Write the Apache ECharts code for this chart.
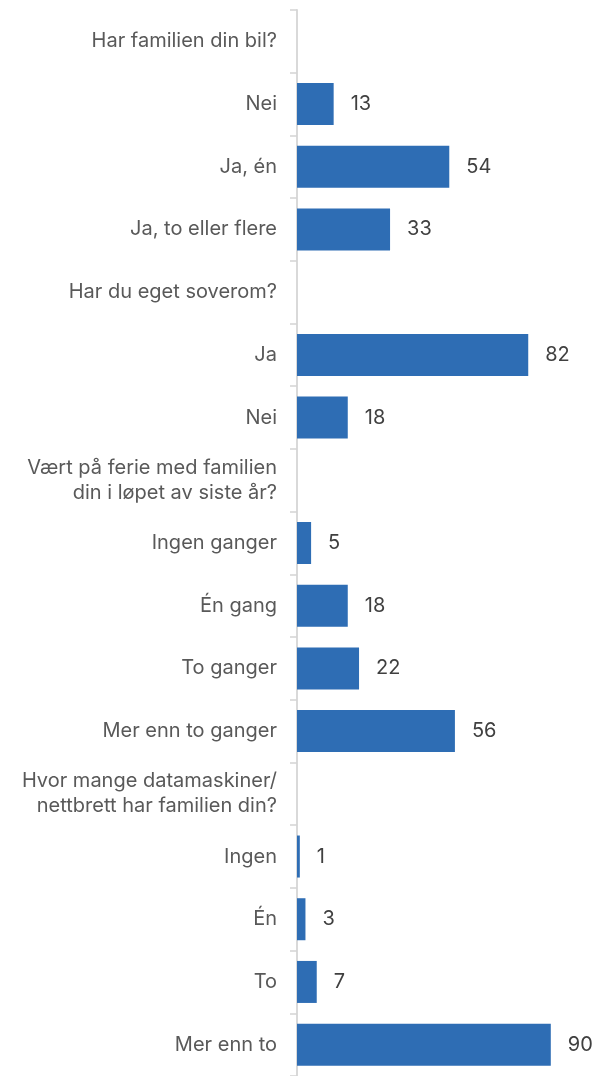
<!DOCTYPE html>
<html>
<head>
<meta charset="utf-8">
<script src="https://cdn.jsdelivr.net/npm/echarts@6/dist/echarts.min.js"></script>
<style>
  html, body { margin: 0; padding: 0; background: #fff; }
  #chart { width: 604px; height: 1076px; }
</style>
</head>
<body>
<div id="chart"></div>
<script>
// kategorier, ovenfra og ned (overskrifter har ingen verdi)
const categories = [
  'Har familien din bil?',
  'Nei',
  'Ja, én',
  'Ja, to eller flere',
  'Har du eget soverom?',
  'Ja',
  'Nei',
  'Vært på ferie med familien\ndin i løpet av siste år?',
  'Ingen ganger',
  'Én gang',
  'To ganger',
  'Mer enn to ganger',
  'Hvor mange datamaskiner/\nnettbrett har familien din?',
  'Ingen',
  'Én',
  'To',
  'Mer enn to'
];
const values = [null, 13, 54, 33, null, 82, 18, null, 5, 18, 22, 56, null, 1, 3, 7, 90];

const myChart = echarts.init(document.getElementById('chart'));

const option = {
  animation: false,
  grid: {
    left: 297,
    right: 25,
    top: 10,
    bottom: 0,
    containLabel: false
  },
  xAxis: {
    type: 'value',
    min: 0,
    max: 100,
    show: false
  },
  yAxis: {
    type: 'category',
    inverse: true,
    data: categories,
    axisLine: {
      show: true,
      lineStyle: { color: '#d9d9d9', width: 2 }
    },
    axisTick: {
      show: true,
      inside: false,
      length: 7,
      lineStyle: { color: '#d4d4d4', width: 1.5 }
    },
    axisLabel: {
      color: '#595959',
      fontFamily: 'Inter',
      fontSize: 20,
      margin: 20,
      lineHeight: 25,
      align: 'right'
    }
  },
  series: [
    {
      type: 'bar',
      data: values,
      barCategoryGap: '33%',
      itemStyle: { color: '#2e6db4' },
      label: {
        show: true,
        position: 'right',
        distance: 17,
        color: '#404040',
        fontFamily: 'Inter',
        fontSize: 20,
        formatter: (p) => (p.value == null ? '' : p.value)
      }
    }
  ]
};
myChart.setOption(option);
</script>
</body>
</html>
